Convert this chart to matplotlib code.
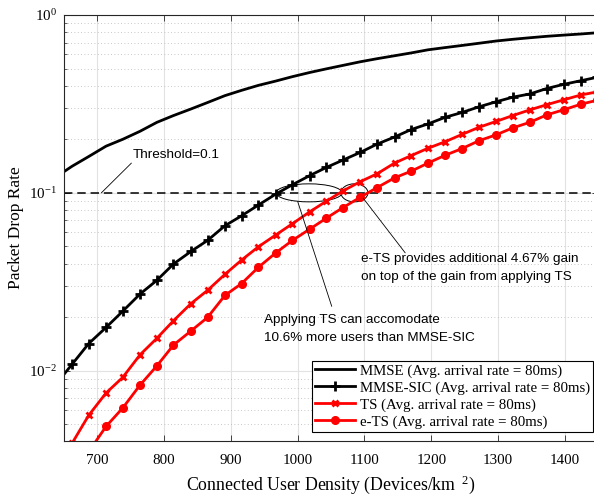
"""Packet drop rate vs. connected user density (MMSE, MMSE-SIC, TS, e-TS)."""

import matplotlib

matplotlib.use("Agg")

import matplotlib.pyplot as plt
from matplotlib.patches import Ellipse
from matplotlib.ticker import LogLocator, MultipleLocator, NullFormatter


# Connected user density (devices/km^2), one sample per simulated load
density = [637, 662, 687, 713, 738, 764, 789, 814, 840, 865, 891, 916, 941,
           967, 992, 1018, 1043, 1068, 1094, 1119, 1145, 1170, 1195, 1221,
           1246, 1272, 1297, 1322, 1348, 1373, 1399, 1424, 1449]

mmse = [0.122, 0.141, 0.160, 0.183, 0.200, 0.222, 0.249, 0.272, 0.296,
        0.322, 0.352, 0.377, 0.402, 0.425, 0.450, 0.475, 0.498, 0.521,
        0.546, 0.568, 0.590, 0.612, 0.637, 0.656, 0.674, 0.694, 0.714,
        0.730, 0.745, 0.759, 0.771, 0.782, 0.795]

mmse_sic = [0.0083, 0.01085, 0.0142, 0.0175, 0.0216, 0.0270, 0.0322, 0.0398,
            0.0468, 0.0540, 0.0653, 0.0743, 0.0853, 0.0983, 0.111, 0.125,
            0.139, 0.153, 0.169, 0.188, 0.206, 0.227, 0.244, 0.266, 0.283,
            0.305, 0.325, 0.345, 0.360, 0.386, 0.408, 0.427, 0.447]

ts = [0.0020, 0.0039, 0.00561, 0.00749, 0.00917, 0.0123, 0.0152, 0.0191,
      0.0238, 0.0283, 0.0348, 0.0419, 0.0497, 0.0579, 0.0670, 0.0782,
      0.0898, 0.1026, 0.1157, 0.128, 0.147, 0.162, 0.178, 0.194, 0.213,
      0.234, 0.252, 0.272, 0.293, 0.313, 0.334, 0.355, 0.370]

e_ts = [0.0015, 0.0024, 0.0035, 0.00486, 0.00617, 0.00831, 0.01063, 0.01394,
        0.01671, 0.01993, 0.0265, 0.0309, 0.0381, 0.0459, 0.0540, 0.0625,
        0.0721, 0.0827, 0.0946, 0.1071, 0.1214, 0.1324, 0.1469, 0.1628,
        0.1773, 0.1967, 0.2118, 0.2318, 0.2495, 0.2743, 0.2937, 0.3149,
        0.332]

labels = [
    "MMSE (Avg. arrival rate = 80ms)",
    "MMSE-SIC (Avg. arrival rate = 80ms)",
    "TS (Avg. arrival rate = 80ms)",
    "e-TS (Avg. arrival rate = 80ms)",
]

threshold = 0.1

plt.rcParams.update({
    "font.family": "Liberation Serif",
    "mathtext.fontset": "custom",
    "mathtext.rm": "Liberation Serif",
    "mathtext.it": "Liberation Serif:italic",
    "mathtext.bf": "Liberation Serif:bold",
    "axes.linewidth": 0.8,
    "axes.edgecolor": "#262626",
    "xtick.direction": "in",
    "ytick.direction": "in",
    "xtick.top": True,
    "ytick.right": True,
})

fig = plt.figure(figsize=(5.94, 4.95), dpi=100)
# right spine sits just past the canvas edge, like the cropped original
ax = fig.add_axes([0.1077, 0.1097, 0.8993, 0.860])

ax.set_yscale("log")
ax.set_xlim(650, 1450)
ax.set_ylim(0.00404, 1.0)
ax.xaxis.set_major_locator(MultipleLocator(100))
ax.yaxis.set_minor_locator(LogLocator(subs=range(2, 10)))
ax.yaxis.set_minor_formatter(NullFormatter())

ax.set_axisbelow(True)
ax.grid(which="major", axis="both", color="#e2e2e2", lw=0.8, ls="-")
ax.grid(which="minor", axis="y", color="#b5b5b5", lw=0.6, ls=(0, (1, 3)))

ax.tick_params(which="major", length=4, width=0.6, color="#262626",
               labelsize=10.8)
ax.tick_params(axis="x", which="major", pad=9.5)
ax.tick_params(axis="y", which="major", pad=5)
ax.tick_params(which="minor", length=2.5, width=0.5, color="#262626")

ax.axhline(threshold, color="k", lw=1.1, ls=(0, (5.5, 3.2)))

ax.plot(density, mmse, color="k", lw=2, label=labels[0])
ax.plot(density, mmse_sic, color="k", lw=2, marker="+", ms=7, mew=2,
        label=labels[1])
ax.plot(density, ts, color="r", lw=2, marker="x", ms=5, mew=2,
        label=labels[2])
ax.plot(density, e_ts, color="r", lw=2, marker="o", ms=5.5,
        label=labels[3])

ax.set_xlabel(r"Connected User Density (Devices/km $\,^{2}$)", fontsize=12.8,
              labelpad=5)
ax.set_ylabel("Packet Drop Rate", fontsize=12.5, labelpad=4)

leg = ax.legend(loc="lower right", bbox_to_anchor=(0.9903, 0.0211),
                borderaxespad=0, fontsize=10.7, frameon=True, fancybox=False,
                framealpha=1, edgecolor="k", handlelength=2.7,
                handletextpad=0.3, labelspacing=0.23, borderpad=0.2,
                numpoints=1)
leg.get_frame().set_linewidth(0.8)

# --- annotations -------------------------------------------------------
note_font = dict(family="Liberation Sans", fontsize=9.7)
lead = dict(arrowstyle="-", lw=0.6, color="k", shrinkA=0, shrinkB=0)

ax.text(753, 0.1635, "Threshold=0.1", ha="left", va="center", **note_font)
ax.annotate("", xy=(706, threshold), xytext=(751, 0.147), arrowprops=lead)

ax.text(949, 0.0172, "Applying TS can accomodate\n10.6% more users than MMSE-SIC",
        ha="left", va="center", linespacing=1.7, **note_font)
ax.annotate("", xy=(1000, 0.0894), xytext=(1051, 0.023), arrowprops=lead)

ax.text(1095, 0.0377, "e-TS provides additional 4.67% gain\n"
        "on top of the gain from applying TS",
        ha="left", va="center", linespacing=1.7, **note_font)
ax.annotate("", xy=(1098, 0.0934), xytext=(1161, 0.046), arrowprops=lead)

# ellipses drawn in axes space so the log scale does not squash them
to_axes = ax.transData + ax.transAxes.inverted()
for cx, w in [(1017, 0.1235), (1085, 0.0505)]:
    ex, ey = to_axes.transform((cx, threshold))
    ax.add_patch(Ellipse((ex, ey), w, 0.0423, transform=ax.transAxes,
                         fill=False, edgecolor="k", lw=0.7))

fig.savefig("out.png", dpi=100)
